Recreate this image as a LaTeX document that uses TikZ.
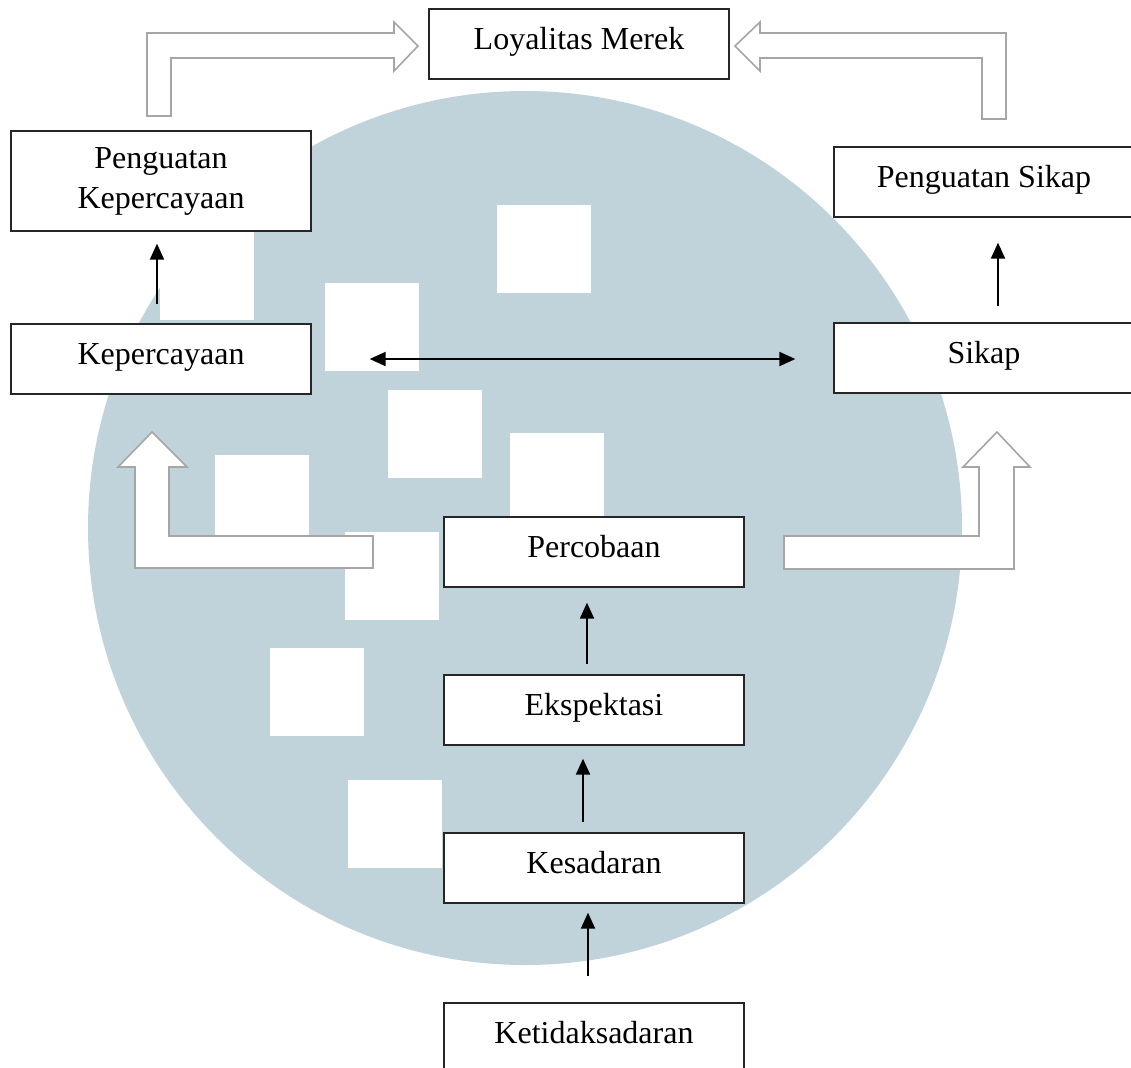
\documentclass[tikz,border=0pt]{standalone}
\usepackage{fontspec}
\setmainfont{Liberation Serif}
\usepackage{tikz}
\usetikzlibrary{arrows.meta}
\definecolor{wmblue}{RGB}{193,211,218}
\definecolor{hollowgray}{RGB}{166,166,166}

\begin{document}
\begin{tikzpicture}[x=0.5pt,y=-0.5pt]
 	\def \boxwd{150pt}
 	\def \boxht{35pt}
 	\tikzstyle{b-node}=[rectangle,draw=black!85,line width=0.65pt,fill=white,minimum width=\boxwd,minimum height=\boxht,inner sep=0pt,font=\fontsize{16pt}{20pt}\selectfont,align=center]
 	\tikzstyle{t-node}=[b-node,text height=11pt,text depth=6pt]
 	\tikzstyle{flow}=[line width=1pt,-{Triangle[length=8pt,width=7pt]}]
 	\tikzstyle{hollow}=[draw=hollowgray,line width=0.8pt,fill=white,line join=miter]
 	\useasboundingbox (0,0) rectangle (1131,1067);
 	% watermark
 	\fill[wmblue] (525,528) circle[radius=218.5pt];
 	\foreach \sx/\sy in {497/205,325/283,160/232,388/390,510/433,215/455,345/532,270/648,348/780}
 		\fill[white] (\sx,\sy) rectangle ++(94,88);
 	% hollow arrows
 	\draw[hollow] (147,116) -- (147,33) -- (394,33) -- (394,22) -- (418,46) -- (394,71) -- (394,58) -- (171,58) -- (171,116) -- cycle;
 	\draw[hollow] (1006,119) -- (1006,33) -- (760,33) -- (760,22) -- (735,46) -- (760,71) -- (760,58) -- (982,58) -- (982,119) -- cycle;
 	\draw[hollow] (373,536) -- (169,536) -- (169,467) -- (187,467) -- (152,432) -- (118,467) -- (135,467) -- (135,568) -- (373,568) -- cycle;
 	\draw[hollow] (784,536) -- (979,536) -- (979,467) -- (963,467) -- (997,432) -- (1030,467) -- (1014,467) -- (1014,569) -- (784,569) -- cycle;
 	% top row
 	\node[t-node] 	(loyal)	at (579,44)	{Loyalitas Merek};
 	% left column
 	\node[b-node,minimum height=50pt] 	(pkep)	at (161,181)	{Penguatan\\Kepercayaan};
 	\node[t-node] 	(kep)	at (161,359)	{Kepercayaan};
 	% right column
 	\node[t-node] 	(psik)	at (984,182)	{Penguatan Sikap};
 	\node[t-node] 	(sikap)	at (984,358)	{Sikap};
 	% middle column
 	\node[t-node] 	(perc)	at (594,552)	{Percobaan};
 	\node[t-node] 	(eksp)	at (594,710)	{Ekspektasi};
 	\node[t-node] 	(kesad)	at (594,868)	{Kesadaran};
 	\node[t-node] 	(ketid)	at (594,1038)	{Ketidaksadaran};
 	\path ([xshift=-2pt]kep.north)	edge[flow,shorten <=9.5pt,shorten >=6pt]	([xshift=-2pt]pkep.south)
 		([xshift=7pt]sikap.north)	edge[flow,shorten <=8pt,shorten >=12.5pt]	([xshift=7pt]psik.south)
 		(kep.east)	edge[flow,{Triangle[length=8pt,width=7pt]}-{Triangle[length=8pt,width=7pt]},shorten <=29pt,shorten >=19pt]	(kep.east -| sikap.west)

 		([xshift=-3.5pt]eksp.north)	edge[flow,shorten <=5pt,shorten >=7.5pt]	([xshift=-3.5pt]perc.south)
 		([xshift=-5.5pt]kesad.north)	edge[flow,shorten <=5pt,shorten >=6.5pt]	([xshift=-5.5pt]eksp.south)
 		([xshift=-3pt]ketid.north)	edge[flow,shorten <=13pt,shorten >=4.5pt]	([xshift=-3pt]kesad.south);
 \end{tikzpicture}
\end{document}
